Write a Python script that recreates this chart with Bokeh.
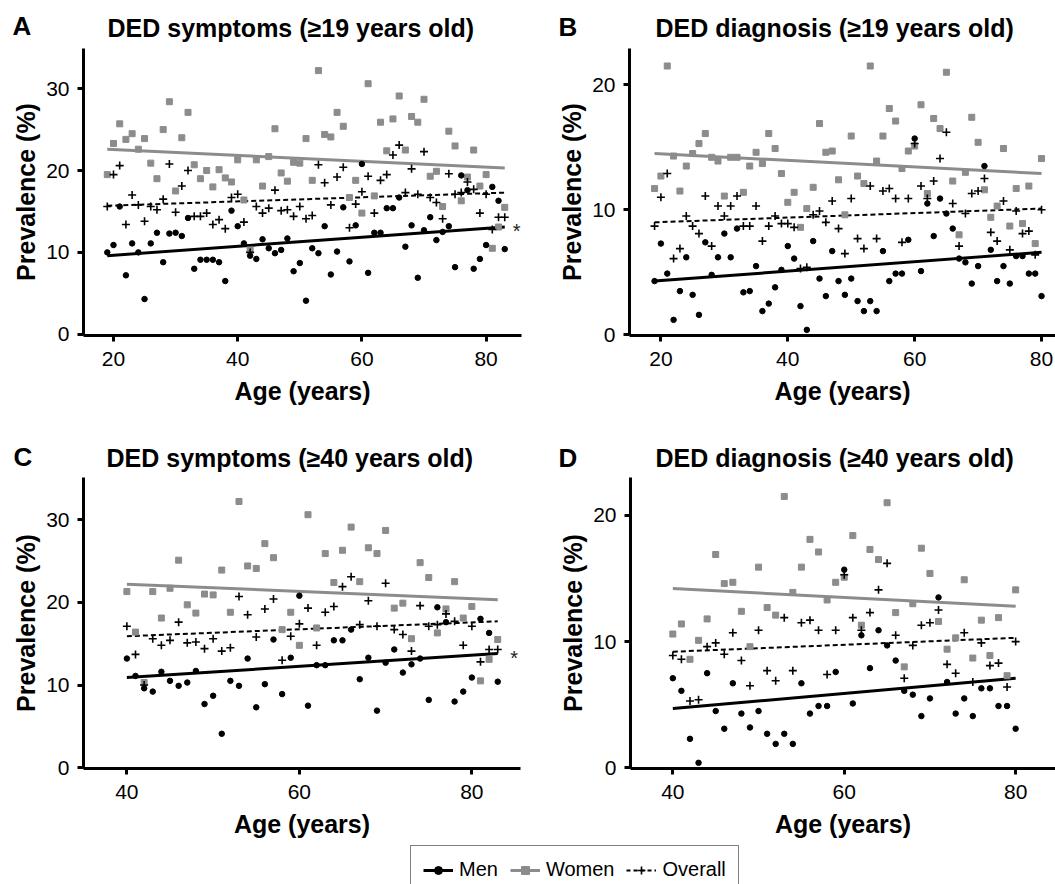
from bokeh.plotting import figure
from bokeh.models import Label, Legend, LegendItem, Range1d, FixedTicker
from bokeh.layouts import column, row
from bokeh.embed import file_html
from bokeh.resources import INLINE

FONT = "Liberation Sans"
GRAY = "#8c8c8c"

# ---------------- data: DED symptoms, ages 19-83 ----------------
ages_sym = list(range(19, 84))
men_sym = [10.0, 10.9, 15.6, 7.2, 11.1, 10.0, 4.3, 11.1, 12.4, 8.8, 12.3, 12.4, 12.0, 14.2, 8.0, 9.1,
           9.1, 9.1, 8.8, 6.5, 15.1, 13.2, 11.1, 9.6, 9.2, 11.6, 10.5, 9.9, 10.3, 11.7, 7.7, 8.7,
           4.1, 10.5, 9.9, 13.2, 7.3, 10.1, 15.5, 8.9, 13.3, 20.8, 7.5, 12.4, 12.4, 15.4, 15.4, 16.7,
           10.7, 13.3, 6.9, 12.7, 14.3, 11.5, 12.5, 13.2, 8.2, 19.4, 17.6, 8.0, 9.2, 10.9, 18.0, 16.3,
           10.4]
women_sym = [19.5, 23.3, 25.7, 23.8, 24.5, 22.6, 23.9, 20.9, 19.0, 25.0, 28.4, 17.5, 24.0, 27.1, 20.7, 19.0,
             20.0, 18.0, 20.1, 19.1, 18.6, 21.3, 16.4, 10.3, 21.3, 18.1, 21.7, 25.1, 19.7, 18.7, 21.0, 20.9,
             23.9, 18.8, 32.2, 24.4, 24.1, 27.1, 25.4, 16.7, 18.8, 14.8, 30.6, 16.9, 25.9, 22.4, 26.3, 29.1,
             22.5, 26.6, 25.9, 28.7, 19.3, 19.9, 15.6, 24.8, 23.0, 16.3, 19.2, 22.5, 18.1, 19.5, 10.5, 13.1,
             15.5]
overall_sym = [15.6, 19.5, 20.6, 13.4, 17.0, 15.8, 13.8, 15.6, 15.2, 16.5, 20.8, 14.9, 18.1, 20.0, 14.4, 14.4,
               14.8, 13.4, 14.0, 12.9, 16.7, 17.1, 13.7, 10.0, 15.6, 14.8, 15.4, 17.6, 15.1, 15.2, 14.4, 15.6,
               14.1, 14.5, 20.7, 18.5, 15.8, 19.2, 20.4, 13.0, 15.9, 17.4, 19.3, 14.8, 18.8, 19.5, 21.9, 23.1,
               17.3, 20.2, 17.1, 22.3, 16.7, 16.1, 14.1, 19.6, 17.1, 17.3, 18.6, 17.7, 14.8, 17.1, 12.8, 14.3,
               14.3]

# ---------------- data: DED diagnosis, ages 19-80 ----------------
ages_diag = list(range(19, 81))
men_diag = [4.3, 7.3, 4.9, 1.2, 3.5, 6.2, 3.2, 1.6, 7.4, 4.8, 6.2, 8.1, 6.2, 8.5, 3.4, 3.5,
            5.5, 1.9, 2.5, 3.8, 5.2, 7.1, 6.1, 2.3, 0.4, 7.5, 4.5, 3.1, 6.7, 4.3, 3.2, 4.5,
            2.7, 1.9, 2.7, 1.9, 6.7, 4.3, 4.9, 4.9, 7.6, 15.7, 5.1, 10.5, 7.9, 10.9, 9.7, 8.5,
            6.1, 5.8, 4.1, 5.5, 13.5, 6.8, 4.3, 5.5, 4.1, 6.3, 6.3, 4.9, 4.9, 3.1]
women_diag = [11.7, 12.7, 21.5, 14.3, 11.5, 13.5, 14.5, 15.3, 16.1, 14.2, 13.9, 11.1, 14.2, 14.2, 11.4, 13.5,
              14.6, 13.7, 16.1, 14.9, 12.9, 10.6, 11.4, 8.6, 10.1, 11.8, 16.9, 14.6, 14.7, 12.4, 9.6, 15.9,
              12.7, 12.1, 21.5, 13.9, 15.9, 18.1, 17.1, 13.3, 14.7, 15.1, 18.4, 11.3, 17.3, 16.5, 21.0, 12.3,
              8.0, 13.0, 17.4, 15.4, 11.6, 9.4, 10.3, 14.9, 8.7, 11.7, 8.9, 11.9, 7.3, 14.1]
overall_diag = [8.7, 11.0, 12.9, 6.1, 6.9, 9.5, 8.7, 8.1, 11.1, 7.1, 10.3, 9.5, 10.3, 11.1, 8.7, 8.7,
                10.3, 7.5, 8.7, 9.5, 8.9, 8.9, 8.6, 5.3, 5.4, 9.6, 9.9, 9.0, 10.7, 8.5, 6.5, 10.9,
                7.7, 6.9, 11.9, 7.7, 11.5, 11.7, 10.9, 7.4, 10.9, 15.3, 11.9, 10.9, 12.3, 14.1, 16.2, 10.5,
                7.1, 9.7, 11.3, 11.5, 12.5, 8.2, 7.5, 10.7, 6.8, 9.9, 8.1, 8.3, 6.4, 10.0]

# ---------------- regression lines (end values) ----------------
trend_A_age = [19, 83]; trend_A_men = [9.6, 13.1]; trend_A_women = [22.6, 20.3]; trend_A_overall = [15.7, 17.3]
trend_B_age = [19, 80]; trend_B_men = [4.3, 6.6]; trend_B_women = [14.5, 12.9]; trend_B_overall = [9.0, 10.1]
trend_C_age = [40, 83]; trend_C_men = [10.9, 13.8]; trend_C_women = [22.2, 20.3]; trend_C_overall = [15.9, 17.7]
trend_D_age = [40, 80]; trend_D_men = [4.7, 7.1]; trend_D_women = [14.2, 12.8]; trend_D_overall = [9.2, 10.3]

titles = ["DED symptoms (\u226519 years old)", "DED diagnosis (\u226519 years old)",
          "DED symptoms (\u226540 years old)", "DED diagnosis (\u226540 years old)"]
letters = ["A", "B", "C", "D"]
sym_yticks = [0, 10, 20, 30]
diag_yticks = [0, 10, 20]
significance_mark = "*"


def subset(ages, vals, min_age):
    return [v for a, v in zip(ages, vals) if a >= min_age]


def header(width, height, entries):
    """Band above a row of panels holding the panel letters and titles."""
    h = figure(width=width, height=height, output_backend="svg", toolbar_location=None,
               x_range=Range1d(0, width), y_range=Range1d(0, height),
               x_axis_location=None, y_axis_location=None, min_border=0)
    h.grid.visible = False
    h.outline_line_color = None
    for x, y, text, size in entries:
        h.add_layout(Label(x=x, y=y, text=text, text_font=FONT, text_font_size=size,
                           text_font_style="bold", text_color="black",
                           text_align="left", text_baseline="middle"))
    return h


def panel(ages, men, women, overall, t_age, t_men, t_women, t_overall,
          xr, yr, xticks, yticks, width, height, mb_left, mb_right, mb_bottom, star):
    p = figure(width=width, height=height, output_backend="svg", toolbar_location=None,
               x_range=Range1d(*xr), y_range=Range1d(*yr),
               min_border_left=mb_left, min_border_right=mb_right,
               min_border_top=0, min_border_bottom=mb_bottom)
    p.grid.visible = False
    p.outline_line_color = None
    p.background_fill_color = "white"
    p.border_fill_color = "white"

    p.xaxis.axis_label = "Age (years)"
    p.yaxis.axis_label = "Prevalence (%)"
    p.xaxis.ticker = FixedTicker(ticks=xticks)
    p.yaxis.ticker = FixedTicker(ticks=yticks)
    for ax in (p.xaxis[0], p.yaxis[0]):
        ax.axis_line_width = 3
        ax.axis_line_color = "black"
        ax.major_tick_line_width = 3
        ax.major_tick_line_color = "black"
        ax.major_tick_out = 6
        ax.major_tick_in = 0
        ax.minor_tick_line_color = None
        ax.major_label_text_font = FONT
        ax.major_label_text_font_size = "21px"
        ax.major_label_text_color = "black"
        ax.axis_label_text_font = FONT
        ax.axis_label_text_font_size = "25px"
        ax.axis_label_text_font_style = "bold"
        ax.axis_label_text_color = "black"
    p.yaxis.major_label_standoff = 8
    p.yaxis.axis_label_standoff = 3
    p.xaxis.major_label_standoff = 10
    p.xaxis.axis_label_standoff = 8

    # regression lines
    p.line(t_age, t_women, line_color=GRAY, line_width=3)
    p.line(t_age, t_overall, line_color="black", line_width=2, line_dash="5 3")
    p.line(t_age, t_men, line_color="black", line_width=3)
    # points
    p.scatter(ages, women, marker="square", size=6, fill_color=GRAY, line_color=GRAY)
    p.scatter(ages, overall, marker="cross", size=8, line_color="black", line_width=1.6)
    p.scatter(ages, men, marker="circle", size=5.5, fill_color="black", line_color="black")

    if star:
        # significance mark just right of the end of the men's regression line
        p.add_layout(Label(x=t_age[-1] + 1.9, y=t_men[-1], text=significance_mark, text_font=FONT,
                           text_font_size="20px", text_color="#222222", text_align="center",
                           text_baseline="middle", y_offset=-4))
    return p


head1 = header(1055, 48, [(12, 23, letters[0], "26px"), (107, 20.5, titles[0], "25px"),
                          (558, 22, letters[1], "26px"), (655, 20.5, titles[1], "25px")])
head2 = header(1055, 40, [(13, 21, letters[2], "26px"), (106, 19.5, titles[2], "25px"),
                          (558, 20, letters[3], "26px"), (655, 19.5, titles[3], "25px")])

pA = panel(ages_sym, men_sym, women_sym, overall_sym,
           trend_A_age, trend_A_men, trend_A_women, trend_A_overall,
           (15.17, 85.70), (-0.15, 34.9), [20, 40, 60, 80], sym_yticks,
           540, 389, 83, 19, 102, True)
pB = panel(ages_diag, men_diag, women_diag, overall_diag,
           trend_B_age, trend_B_men, trend_B_women, trend_B_overall,
           (15.05, 82.2), (-0.05, 22.9), [20, 40, 60, 80], diag_yticks,
           515, 389, 89, 0, 102, False)

agesC = subset(ages_sym, ages_sym, 40)
pC = panel(agesC, subset(ages_sym, men_sym, 40), subset(ages_sym, women_sym, 40),
           subset(ages_sym, overall_sym, 40),
           trend_C_age, trend_C_men, trend_C_women, trend_C_overall,
           (34.97, 85.64), (-0.1, 35.1), [40, 60, 80], sym_yticks,
           540, 363, 83, 20, 70, True)
agesD = subset(ages_diag, ages_diag, 40)
pD = panel(agesD, subset(ages_diag, men_diag, 40), subset(ages_diag, women_diag, 40),
           subset(ages_diag, overall_diag, 40),
           trend_D_age, trend_D_men, trend_D_women, trend_D_overall,
           (35.06, 84.65), (-0.05, 23.0), [40, 60, 80], diag_yticks,
           515, 363, 90, 0, 70, False)

# ---------------- shared legend ----------------
pL = figure(width=1055, height=44, output_backend="svg", toolbar_location=None,
            x_range=Range1d(0, 1), y_range=Range1d(0, 1),
            x_axis_location=None, y_axis_location=None, min_border=0)
pL.grid.visible = False
pL.outline_line_color = None
lm = pL.line(trend_A_age, trend_A_men, line_color="black", line_width=3)
sm = pL.scatter(ages_sym, men_sym, marker="circle", size=6, fill_color="black", line_color="black")
lw = pL.line(trend_A_age, trend_A_women, line_color=GRAY, line_width=3)
sw = pL.scatter(ages_sym, women_sym, marker="square", size=6, fill_color=GRAY, line_color=GRAY)
lo = pL.line(trend_A_age, trend_A_overall, line_color="black", line_width=2, line_dash="4 3")
so = pL.scatter(ages_sym, overall_sym, marker="cross", size=8, line_color="black", line_width=1.6)
legend = Legend(items=[LegendItem(label="Men", renderers=[lm, sm]),
                       LegendItem(label="Women", renderers=[lw, sw]),
                       LegendItem(label="Overall", renderers=[lo, so])],
                orientation="horizontal", location=(410, -10),
                label_text_font=FONT, label_text_font_size="20px", label_text_color="black",
                glyph_width=30, glyph_height=20, label_standoff=6, spacing=12,
                padding=12, margin=0, border_line_color="black", border_line_width=1.2,
                background_fill_color="white", background_fill_alpha=1.0)
pL.add_layout(legend)

layout = column(head1, row(pA, pB), head2, row(pC, pD), pL)
open("out.html", "w").write(file_html(layout, INLINE))
